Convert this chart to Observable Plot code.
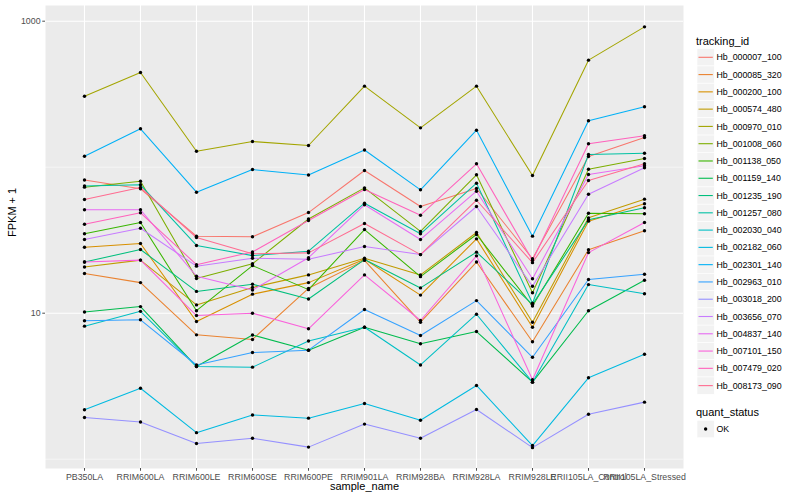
<!DOCTYPE html>
<html><head><meta charset="utf-8">
<script src="https://cdn.jsdelivr.net/npm/d3@7"></script>
<script src="https://cdn.jsdelivr.net/npm/@observablehq/plot@0.6"></script>
<style>
body{margin:0;background:#fff;font-family:"Liberation Sans",Arial,sans-serif;}
#wrap{position:relative;width:800px;height:500px;overflow:hidden;}
#legend{position:absolute;left:690px;top:0;}
</style></head><body>
<div id="wrap"><div id="chart"></div><svg id="legend" width="110" height="500"></svg></div>
<script>
const samples = ["PB350LA","RRIM600LA","RRIM600LE","RRIM600SE","RRIM600PE","RRIM901LA","RRIM928BA","RRIM928LA","RRIM928LE","RRII105LA_Control","RRII105LA_Stressed"];
const ids = ["Hb_000007_100","Hb_000085_320","Hb_000200_100","Hb_000574_480","Hb_000970_010","Hb_001008_060","Hb_001138_050","Hb_001159_140","Hb_001235_190","Hb_001257_080","Hb_002030_040","Hb_002182_060","Hb_002301_140","Hb_002963_010","Hb_003018_200","Hb_003656_070","Hb_004837_140","Hb_007101_150","Hb_007479_020","Hb_008173_090"];
const colors = ["#F8766D","#EA8331","#D89000","#C09B00","#A3A500","#7CAE00","#39B600","#00BB4E","#00BF7D","#00C1A3","#00BFC4","#00BAE0","#00B0F6","#35A2FF","#9590FF","#C77CFF","#E76BF3","#FA62DB","#FF62BC","#FF6C91"];
const yTicks = [10, 1000];

// FPKM + 1 per sample (same order as samples)
const Hb_000007_100 = [81.7, 71.1, 33.7, 33.4, 48.9, 94.9, 53.8, 71.5, 23.6, 118.4, 159.7];
const Hb_000085_320 = [18.7, 16.2, 7.11, 6.61, 14.8, 23.0, 8.68, 22.4, 6.37, 27.2, 36.7];
const Hb_000200_100 = [28.3, 30.0, 8.77, 13.5, 16.2, 23.4, 13.3, 32.3, 8.02, 42.7, 56.2];
const Hb_000574_480 = [20.7, 23.1, 11.4, 15.0, 18.3, 23.8, 18.3, 35.7, 8.68, 45.0, 60.4];
const Hb_000970_010 = [306, 445, 128.7, 150, 140.8, 359, 186, 359, 87.7, 541, 915];
const Hb_001008_060 = [73.0, 80.2, 17.3, 21.8, 44.2, 72.2, 36.3, 88.7, 13.8, 96.9, 114.7];
const Hb_001138_050 = [35.0, 41.8, 10.4, 21.2, 14.5, 37.4, 17.8, 34.6, 11.2, 48.4, 48.0];
const Hb_001159_140 = [10.2, 11.1, 4.31, 7.09, 5.58, 8.02, 6.17, 7.49, 3.37, 10.4, 16.8];
const Hb_001235_190 = [22.4, 27.3, 14.1, 15.8, 12.5, 23.3, 14.9, 26.2, 11.5, 43.6, 52.7];
const Hb_001257_080 = [74.3, 75.8, 29.1, 24.8, 26.6, 56.7, 35.0, 77.7, 11.7, 122.2, 124.7];
const Hb_002030_040 = [8.15, 10.3, 4.31, 4.27, 6.45, 8.02, 4.42, 9.84, 3.37, 15.7, 13.6];
const Hb_002182_060 = [2.18, 3.06, 1.52, 2.01, 1.91, 2.41, 1.85, 3.20, 1.24, 3.61, 5.24];
const Hb_002301_140 = [118.9, 183.2, 67.4, 96.4, 88.4, 131.2, 70.0, 179.2, 33.7, 207.9, 259.6];
const Hb_002963_010 = [8.87, 9.01, 4.42, 5.38, 5.58, 10.6, 7.04, 12.2, 4.99, 17.0, 18.5];
const Hb_003018_200 = [1.93, 1.80, 1.28, 1.39, 1.21, 1.74, 1.39, 2.19, 1.20, 2.03, 2.46];
const Hb_003656_070 = [32.0, 38.2, 21.0, 23.8, 23.4, 28.6, 25.2, 53.8, 15.3, 65.3, 99.1];
const Hb_004837_140 = [51.1, 51.1, 17.9, 14.4, 24.0, 55.3, 32.0, 68.5, 17.2, 89.1, 102.2];
const Hb_007101_150 = [22.4, 23.1, 9.64, 10.0, 7.82, 18.3, 8.91, 24.7, 3.50, 26.0, 41.8];
const Hb_007479_020 = [40.7, 48.7, 21.5, 26.3, 43.1, 70.4, 46.9, 105.5, 23.0, 144.6, 164.1];
const Hb_008173_090 = [60.1, 72.6, 33.0, 25.5, 25.9, 41.2, 25.2, 59.4, 22.2, 81.1, 105.5];

const seriesValues = [Hb_000007_100, Hb_000085_320, Hb_000200_100, Hb_000574_480, Hb_000970_010, Hb_001008_060, Hb_001138_050, Hb_001159_140, Hb_001235_190, Hb_001257_080, Hb_002030_040, Hb_002182_060, Hb_002301_140, Hb_002963_010, Hb_003018_200, Hb_003656_070, Hb_004837_140, Hb_007101_150, Hb_007479_020, Hb_008173_090];

const data = [];
ids.forEach((id, i) => seriesValues[i].forEach((v, j) => data.push({id, sample: samples[j], value: v})));

const chart = Plot.plot({
  width: 800, height: 500,
  marginLeft: 45, marginRight: 117, marginTop: 5, marginBottom: 32,
  style: {fontFamily: "Liberation Sans, Arial, sans-serif", background: "white", overflow: "visible"},
  x: {type: "point", domain: samples, padding: 0.6},
  y: {type: "log", domain: [0.8636, 1281]},
  color: {domain: ids, range: colors},
  marks: [
    Plot.frame({fill: "#EBEBEB", stroke: "none"}),
    Plot.ruleY([1, 100], {stroke: "white", strokeWidth: 0.55}),
    Plot.ruleY(yTicks, {stroke: "white", strokeWidth: 1.1}),
    Plot.ruleX(samples, {x: d => d, stroke: "white", strokeWidth: 1.1}),
    Plot.line(data, {x: "sample", y: "value", z: "id", stroke: "id", strokeWidth: 1.05}),
    Plot.dot(data, {x: "sample", y: "value", r: 1.7, fill: "black", stroke: "none"}),
    Plot.axisX({tickSize: 2.75, tickPadding: 2.2, fontSize: 8.8, color: "#4D4D4D", label: null}),
    Plot.axisY({ticks: yTicks, tickFormat: d => String(d), tickSize: 2.75, tickPadding: 2.2, fontSize: 8.8, color: "#4D4D4D", label: null}),
    Plot.text(["sample_name"], {text: d => d, frameAnchor: "bottom", dy: 21, fontSize: 11, fill: "black"}),
    Plot.text(["FPKM + 1"], {text: d => d, frameAnchor: "left", dx: -33, rotate: -90, fontSize: 11, fill: "black"})
  ]
});
document.getElementById("chart").appendChild(chart);

// legend (SVG, real text)
const leg = d3.select("#legend").style("font-family", "Liberation Sans, Arial, sans-serif");
leg.append("text").attr("x", 6).attr("y", 40.7).attr("dy", "0.35em").attr("font-size", 11).attr("fill", "#000").text("tracking_id");
ids.forEach((id, i) => {
  const cy = 57.3 + i * 17.28;
  leg.append("rect").attr("x", 7).attr("y", cy - 8.64).attr("width", 17.28).attr("height", 17.28)
    .attr("fill", "#F2F2F2").attr("stroke", "white").attr("stroke-width", 0.6);
  leg.append("line").attr("x1", 8.5).attr("x2", 22.8).attr("y1", cy).attr("y2", cy)
    .attr("stroke", colors[i]).attr("stroke-width", 1.1);
  leg.append("text").attr("x", 26.5).attr("y", cy).attr("dy", "0.35em").attr("font-size", 8.8).attr("fill", "#000").text(id);
});
leg.append("text").attr("x", 6).attr("y", 412.3).attr("dy", "0.35em").attr("font-size", 11).attr("fill", "#000").text("quant_status");
leg.append("rect").attr("x", 7).attr("y", 429 - 8.64).attr("width", 17.28).attr("height", 17.28)
  .attr("fill", "#F2F2F2").attr("stroke", "white").attr("stroke-width", 0.6);
leg.append("circle").attr("cx", 15.64).attr("cy", 429).attr("r", 1.7).attr("fill", "#000");
leg.append("text").attr("x", 26.5).attr("y", 429).attr("dy", "0.35em").attr("font-size", 8.8).attr("fill", "#000").text("OK");
</script>
</body></html>
